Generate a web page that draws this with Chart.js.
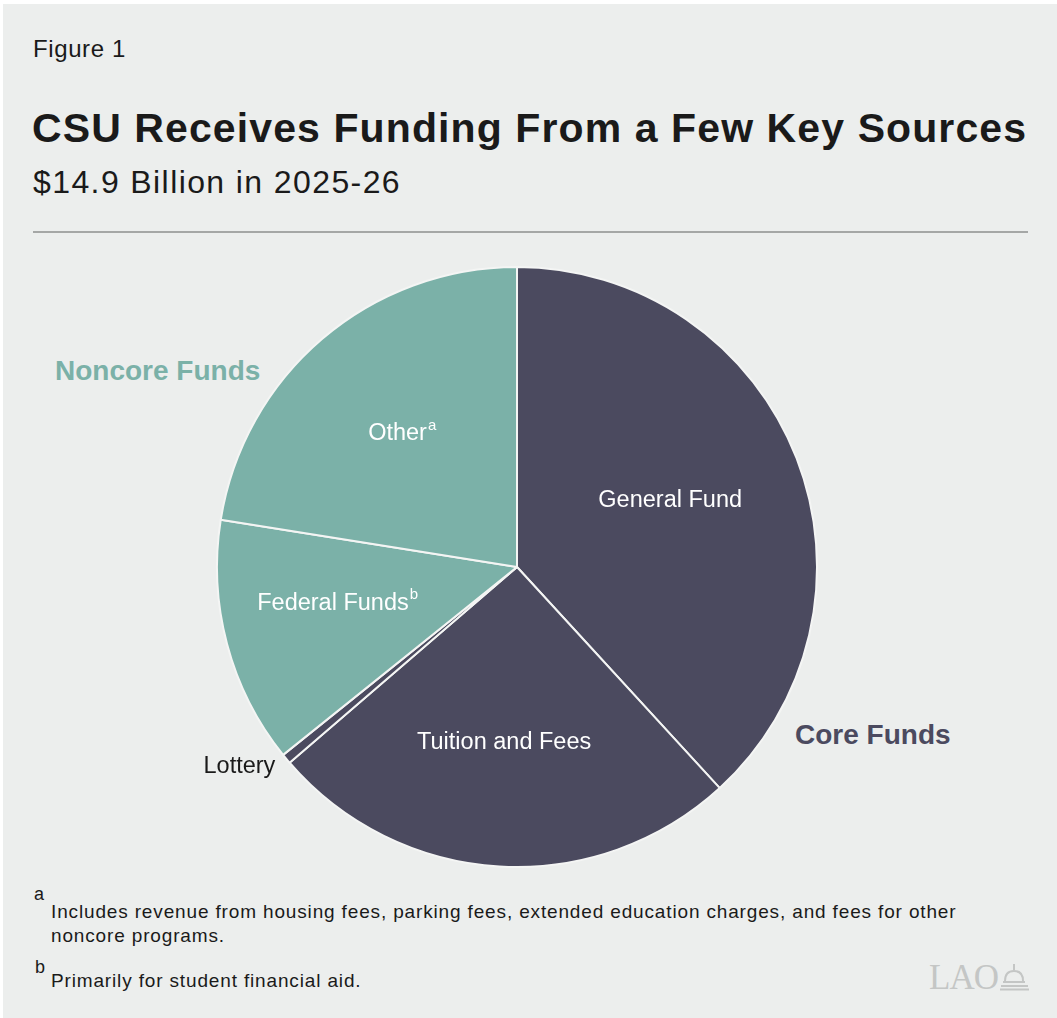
<!DOCTYPE html>
<html lang="en">
  <head>
    <meta charset="UTF-8" />
    <title>CSU Receives Funding From a Few Key Sources</title>
    <style>
      body {
        margin: 0;
        width: 1057px;
        height: 1018px;
        overflow: hidden;
        background: #ffffff;
        font-family: "Liberation Sans", Arial, sans-serif;
      }

      .panel {
        position: absolute;
        left: 3px;
        top: 4px;
        width: 1054px;
        height: 1014px;
        background: #eceeed;
      }

      .txt {
        position: absolute;
        white-space: nowrap;
        color: #1a1a1a;
      }

      #fig { left: 33px; top: 35px; font-size: 24px; letter-spacing: 0.6px; }
      #title { left: 32px; top: 105px; font-size: 41px; font-weight: bold; letter-spacing: 1.1px; }
      #subtitle { left: 33px; top: 164px; font-size: 32px; letter-spacing: 1.4px; }
      #rule { position: absolute; left: 33px; top: 231px; width: 995px; height: 2px; background: #a5a7a6; }

      .group { font-size: 28px; font-weight: bold; }
      #noncore { left: 55px; top: 355px; color: #7bb1a8; }
      #core { left: 795px; top: 719px; color: #4b4a5f; }

      .note { font-size: 19px; letter-spacing: 0.85px; }
      .sup { font-size: 18px; }
      #noteA1 { left: 51px; top: 901px; }
      #noteA2 { left: 51px; top: 925px; }
      #supA { left: 34px; top: 884px; }
      #noteB { left: 51px; top: 970px; }
      #supB { left: 35px; top: 957px; }
      #logo { left: 929px; top: 958px; font-family: "Liberation Serif", serif; font-size: 35px; color: #c4c6c5; letter-spacing: -1px; }
      #logoMark { position: absolute; left: 1000px; top: 963px; }

      canvas { position: absolute; left: 0; top: 0; }
    </style>
  </head>
  <body>
    <div class="panel"></div>
    <div class="txt" id="fig">Figure 1</div>
    <div class="txt" id="title">CSU Receives Funding From a Few Key Sources</div>
    <div class="txt" id="subtitle">$14.9 Billion in 2025-26</div>
    <div id="rule"></div>
    <div class="txt group" id="noncore">Noncore Funds</div>
    <div class="txt group" id="core">Core Funds</div>
    <div class="txt sup" id="supA">a</div>
    <div class="txt note" id="noteA1">Includes revenue from housing fees, parking fees, extended education charges, and fees for other</div>
    <div class="txt note" id="noteA2">noncore programs.</div>
    <div class="txt sup" id="supB">b</div>
    <div class="txt note" id="noteB">Primarily for student financial aid.</div>
    <div class="txt" id="logo">LAO</div>
    <svg id="logoMark" width="30" height="28" viewBox="0 0 30 28">
      <g fill="none" stroke="#c4c6c5" stroke-width="2">
        <line x1="14" y1="1" x2="14" y2="7" />
        <path d="M5 18 Q5 8 14 8 Q23 8 23 18" />
        <line x1="3" y1="19" x2="25" y2="19" />
        <line x1="1" y1="23" x2="28" y2="23" />
        <line x1="0" y1="26.5" x2="29" y2="26.5" />
      </g>
    </svg>

    <canvas id="csuPie" width="1057" height="1018"></canvas>

    <script src="https://cdn.jsdelivr.net/npm/chart.js@4.4.2/dist/chart.umd.min.js"></script>
    <script>
      // Funding sources, $ billions (total 14.9).
      const sources = ["General Fund", "Tuition and Fees", "Lottery", "Federal Funds", "Other"];
      const amounts = [5.69, 3.8, 0.08, 1.98, 3.35];
      const footnoteMarks = ["", "", "", "b", "a"];

      const slate = "#4b4a5f";
      const teal = "#7bb1a8";
      const sliceColors = [slate, slate, slate, teal, teal];

      // label placement: fraction of radius (-1 = outside) and a small angle nudge in degrees
      const labelRadius = [0.557, 0.587, -1, 0.61, 0.586];
      const labelNudge = [-2.3, 0.8, 0, 3.4, -0.3];

      const sliceLabels = {
        id: "sliceLabels",
        afterDatasetsDraw(chart) {
          const { ctx } = chart;
          const meta = chart.getDatasetMeta(0);
          const mainFont = "23.5px 'Liberation Sans', Arial, sans-serif";
          const supFont = "15px 'Liberation Sans', Arial, sans-serif";
          ctx.save();
          ctx.textBaseline = "middle";
          meta.data.forEach((arc, i) => {
            const { x, y, startAngle, endAngle, outerRadius } = arc.getProps(
              ["x", "y", "startAngle", "endAngle", "outerRadius"], true);
            const mid = (startAngle + endAngle) / 2 + labelNudge[i] * Math.PI / 180;
            const label = sources[i];
            const mark = footnoteMarks[i];
            ctx.font = mainFont;
            if (labelRadius[i] < 0) {
              // tiny slice: label sits just outside, to the lower left
              const px = x + Math.cos(mid) * outerRadius - 11;
              const py = y + Math.sin(mid) * outerRadius + 8;
              ctx.fillStyle = "#1a1a1a";
              ctx.textAlign = "right";
              ctx.fillText(label, px, py);
              return;
            }
            const r = outerRadius * labelRadius[i];
            const px = x + Math.cos(mid) * r;
            const py = y + Math.sin(mid) * r;
            ctx.fillStyle = "#ffffff";
            const w = ctx.measureText(label).width;
            ctx.font = supFont;
            const sw = mark ? ctx.measureText(mark).width + 1 : 0;
            const left = px - (w + sw) / 2;
            ctx.font = mainFont;
            ctx.textAlign = "left";
            ctx.fillText(label, left, py);
            if (mark) {
              ctx.font = supFont;
              ctx.fillText(mark, left + w + 1, py - 8);
            }
          });
          ctx.restore();
        },
      };

      new Chart(document.getElementById("csuPie"), {
        type: "pie",
        data: {
          labels: sources,
          datasets: [
            {
              data: amounts,
              backgroundColor: sliceColors,
              borderColor: "#f4f5f4",
              borderWidth: 2,
            },
          ],
        },
        options: {
          responsive: false,
          animation: false,
          devicePixelRatio: 1,
          layout: { padding: { left: 216, top: 266, right: 239, bottom: 150 } },
          plugins: {
            legend: { display: false },
            tooltip: { enabled: false },
          },
        },
        plugins: [sliceLabels],
      });
    </script>
  </body>
</html>
